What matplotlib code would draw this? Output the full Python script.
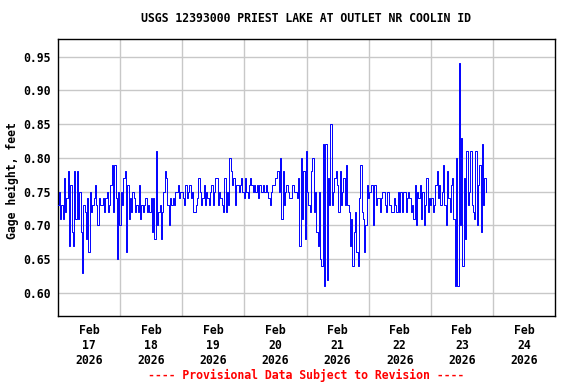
import matplotlib
matplotlib.use('Agg')
from matplotlib import pyplot as plt
import numpy as np
import pandas as pd

# Gage height, every 30 minutes, in hundredths of a foot
feb17 = [73, 75, 71, 73, 71, 77, 72, 74, 78, 67,
         76, 69, 67, 78, 71, 78, 71, 75, 69, 63,
         73, 72, 68, 74, 66, 75, 72, 73, 74, 76,
         73, 70, 74, 73, 73, 74, 72, 74, 75, 72,
         73, 76, 79, 72, 79, 74, 65, 75]
feb18 = [70, 75, 73, 77, 78, 66, 76, 71, 74, 72,
         75, 74, 72, 73, 72, 76, 71, 73, 72, 73,
         74, 72, 73, 72, 74, 69, 74, 68, 81, 70,
         72, 73, 68, 72, 75, 78, 77, 73, 70, 74,
         73, 74, 73, 75, 75, 76, 74, 75]
feb19 = [75, 74, 73, 76, 74, 75, 76, 74, 75, 72,
         72, 73, 74, 77, 75, 73, 74, 76, 73, 75,
         74, 73, 75, 76, 73, 75, 77, 77, 73, 75,
         74, 73, 72, 77, 72, 75, 73, 80, 78, 76,
         77, 73, 76, 76, 75, 76, 77, 75]
feb20 = [74, 77, 75, 74, 76, 77, 76, 75, 76, 75,
         76, 74, 76, 75, 75, 76, 75, 76, 75, 74,
         73, 75, 76, 76, 77, 77, 78, 75, 80, 71,
         78, 73, 75, 76, 75, 74, 74, 76, 76, 75,
         75, 74, 77, 67, 80, 71, 78, 68]
feb21 = [81, 75, 73, 72, 78, 80, 72, 75, 69, 67,
         75, 65, 64, 82, 61, 82, 62, 77, 73, 85,
         73, 75, 77, 78, 76, 72, 78, 73, 75, 77,
         73, 79, 73, 72, 67, 71, 64, 69, 72, 66,
         64, 74, 79, 72, 71, 66, 70, 76]
feb22 = [74, 75, 76, 76, 70, 76, 73, 74, 74, 72,
         74, 75, 75, 73, 72, 75, 73, 73, 72, 72,
         74, 73, 72, 75, 72, 75, 72, 75,
         75, 72, 74, 75, 74, 72, 73, 71, 76, 70, 75, 74,
         76, 71, 75, 70, 73, 77, 72, 74]
feb23 = [73, 74, 72, 73, 76, 78, 74, 76, 73, 75,
         79, 73, 70, 78, 74, 72, 76, 77,
         71, 61, 80, 61, 94, 70, 83, 64, 77, 68,
         81, 73, 75, 81, 73, 72, 71, 81, 70, 76,
         79, 69, 82, 73, 77, 75]

gage_ft = np.array(feb17 + feb18 + feb19 + feb20 + feb21 + feb22 + feb23) / 100.0
times = pd.date_range('2026-02-17 00:00', periods=len(gage_ft), freq='30min')

day_noons = pd.date_range('2026-02-17 12:00', periods=8, freq='D')
day_labels = ['Feb\n%d\n2026' % d.day for d in day_noons]
midnights = pd.date_range('2026-02-18', periods=7, freq='D')
y_ticks = [0.60, 0.65, 0.70, 0.75, 0.80, 0.85, 0.90, 0.95]

mono = 'DejaVu Sans Mono'
fs = 8.3

fig = plt.figure(figsize=(5.76, 3.84), dpi=100)
ax = fig.add_axes([58 / 576, 1 - 316 / 384, 497 / 576, 277 / 384])

ax.plot(times, gage_ft, color='#0000ff', linewidth=0.7, drawstyle='steps-mid', zorder=3)

ax.set_xlim(pd.Timestamp('2026-02-17'), pd.Timestamp('2026-02-25'))
ax.set_ylim(0.566, 0.976)

ax.set_xticks(day_noons)
ax.set_xticklabels(day_labels)
ax.set_xticks(midnights, minor=True)
ax.set_yticks(y_ticks)
ax.set_yticklabels(['%.2f' % v for v in y_ticks])

ax.grid(which='minor', axis='x', color='#c8c8c8', linewidth=1)
ax.grid(which='major', axis='y', color='#c8c8c8', linewidth=1)
ax.tick_params(which='both', length=0)
ax.tick_params(axis='x', pad=6)
ax.tick_params(axis='y', pad=5)
for lab in ax.get_xticklabels() + ax.get_yticklabels():
    lab.set_fontfamily(mono)
    lab.set_fontweight('bold')
    lab.set_fontsize(fs)
for sp in ax.spines.values():
    sp.set_linewidth(1.0)
    sp.set_color('black')

fig.text(306 / 576, 1 - 19 / 384, 'USGS 12393000 PRIEST LAKE AT OUTLET NR COOLIN ID',
         ha='center', va='center', family=mono, weight='bold', fontsize=fs)
fig.text(12 / 576, 1 - 181 / 384, 'Gage height, feet', rotation=90,
         ha='center', va='center', family=mono, weight='bold', fontsize=fs)
fig.text(306 / 576, 1 - 375 / 384, '---- Provisional Data Subject to Revision ----',
         ha='center', va='center', family=mono, weight='bold', fontsize=fs, color='#ff0000')

fig.savefig('out.png', dpi=100)
